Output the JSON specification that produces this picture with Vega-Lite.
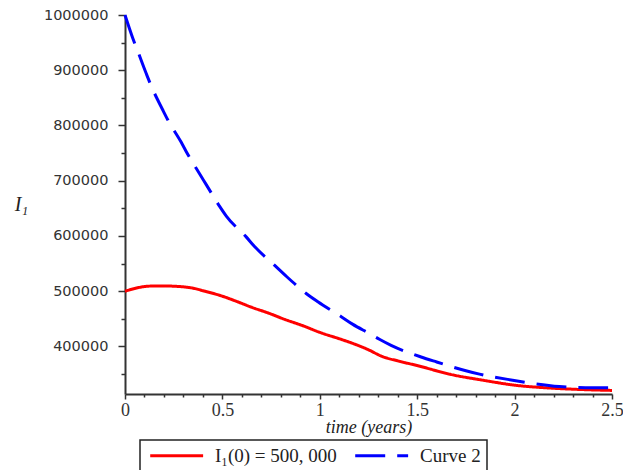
{
  "$schema": "https://vega.github.io/schema/vega-lite/v6.json",
  "width": 487,
  "height": 379,
  "autosize": {"type": "none"},
  "padding": {"left": 125, "top": 15, "right": 11, "bottom": 76},
  "background": "white",
  "config": {"view": {"stroke": null}},
  "data": {
    "values": [
      {"t": 0, "v": 500000, "s": "I₁(0) = 500, 000"},
      {"t": 0.05, "v": 505000, "s": "I₁(0) = 500, 000"},
      {"t": 0.1, "v": 508500, "s": "I₁(0) = 500, 000"},
      {"t": 0.15, "v": 509500, "s": "I₁(0) = 500, 000"},
      {"t": 0.2, "v": 509500, "s": "I₁(0) = 500, 000"},
      {"t": 0.28, "v": 508500, "s": "I₁(0) = 500, 000"},
      {"t": 0.35, "v": 505500, "s": "I₁(0) = 500, 000"},
      {"t": 0.4, "v": 501000, "s": "I₁(0) = 500, 000"},
      {"t": 0.5, "v": 491000, "s": "I₁(0) = 500, 000"},
      {"t": 0.57, "v": 482000, "s": "I₁(0) = 500, 000"},
      {"t": 0.65, "v": 471000, "s": "I₁(0) = 500, 000"},
      {"t": 0.74, "v": 460000, "s": "I₁(0) = 500, 000"},
      {"t": 0.82, "v": 449000, "s": "I₁(0) = 500, 000"},
      {"t": 0.91, "v": 438000, "s": "I₁(0) = 500, 000"},
      {"t": 1.0, "v": 425500, "s": "I₁(0) = 500, 000"},
      {"t": 1.1, "v": 414000, "s": "I₁(0) = 500, 000"},
      {"t": 1.15, "v": 408000, "s": "I₁(0) = 500, 000"},
      {"t": 1.25, "v": 394000, "s": "I₁(0) = 500, 000"},
      {"t": 1.32, "v": 382000, "s": "I₁(0) = 500, 000"},
      {"t": 1.4, "v": 374000, "s": "I₁(0) = 500, 000"},
      {"t": 1.5, "v": 365500, "s": "I₁(0) = 500, 000"},
      {"t": 1.67, "v": 349600, "s": "I₁(0) = 500, 000"},
      {"t": 1.84, "v": 338800, "s": "I₁(0) = 500, 000"},
      {"t": 2.0, "v": 330000, "s": "I₁(0) = 500, 000"},
      {"t": 2.18, "v": 324800, "s": "I₁(0) = 500, 000"},
      {"t": 2.35, "v": 322000, "s": "I₁(0) = 500, 000"},
      {"t": 2.5, "v": 320500, "s": "I₁(0) = 500, 000"},
      {"t": 0, "v": 1000000, "s": "Curve 2"},
      {"t": 0.04, "v": 958000, "s": "Curve 2"},
      {"t": 0.066, "v": 934000, "s": "Curve 2"},
      {"t": 0.109, "v": 894000, "s": "Curve 2"},
      {"t": 0.134, "v": 872000, "s": "Curve 2"},
      {"t": 0.194, "v": 828000, "s": "Curve 2"},
      {"t": 0.22, "v": 810000, "s": "Curve 2"},
      {"t": 0.288, "v": 770000, "s": "Curve 2"},
      {"t": 0.314, "v": 753000, "s": "Curve 2"},
      {"t": 0.382, "v": 713000, "s": "Curve 2"},
      {"t": 0.417, "v": 693000, "s": "Curve 2"},
      {"t": 0.485, "v": 654000, "s": "Curve 2"},
      {"t": 0.52, "v": 636000, "s": "Curve 2"},
      {"t": 0.622, "v": 598400, "s": "Curve 2"},
      {"t": 0.665, "v": 581000, "s": "Curve 2"},
      {"t": 0.767, "v": 547100, "s": "Curve 2"},
      {"t": 0.819, "v": 530000, "s": "Curve 2"},
      {"t": 0.93, "v": 496000, "s": "Curve 2"},
      {"t": 0.99, "v": 481000, "s": "Curve 2"},
      {"t": 1.11, "v": 454000, "s": "Curve 2"},
      {"t": 1.17, "v": 440000, "s": "Curve 2"},
      {"t": 1.255, "v": 423400, "s": "Curve 2"},
      {"t": 1.306, "v": 413000, "s": "Curve 2"},
      {"t": 1.366, "v": 402000, "s": "Curve 2"},
      {"t": 1.52, "v": 381000, "s": "Curve 2"},
      {"t": 1.6, "v": 372000, "s": "Curve 2"},
      {"t": 1.75, "v": 356000, "s": "Curve 2"},
      {"t": 1.82, "v": 350000, "s": "Curve 2"},
      {"t": 1.99, "v": 339000, "s": "Curve 2"},
      {"t": 2.06, "v": 335000, "s": "Curve 2"},
      {"t": 2.23, "v": 327500, "s": "Curve 2"},
      {"t": 2.3, "v": 326000, "s": "Curve 2"},
      {"t": 2.4, "v": 325300, "s": "Curve 2"},
      {"t": 2.48, "v": 325300, "s": "Curve 2"}
    ]
  },
  "mark": {"type": "line", "strokeWidth": 3, "interpolate": "monotone", "clip": false},
  "encoding": {
    "x": {
      "field": "t",
      "type": "quantitative",
      "scale": {"domain": [0, 2.5], "nice": false, "zero": false},
      "axis": {
        "title": "time (years)",
        "titleFont": "Liberation Serif",
        "titleFontStyle": "italic",
        "titleFontWeight": "normal",
        "titleFontSize": 18,
        "titleColor": "#222",
        "titleBaseline": "middle",
        "titleY": 33,
        "values": [0, 0.1, 0.2, 0.3, 0.4, 0.5, 0.6, 0.7, 0.8, 0.9, 1, 1.1, 1.2, 1.3, 1.4, 1.5, 1.6, 1.7, 1.8, 1.9, 2, 2.1, 2.2, 2.3, 2.4, 2.5],
        "labelExpr": "abs(datum.value*2 - round(datum.value*2)) < 0.001 ? toString(datum.value) : ''",
        "labelFont": "Liberation Serif",
        "labelFontSize": 18,
        "labelColor": "#333",
        "labelPadding": 2,
        "labelFlush": false,
        "labelBound": false,
        "labelOverlap": false,
        "tickSize": {"condition": {"test": "abs(datum.value*2 - round(datum.value*2)) < 0.001", "value": 5}, "value": 3},
        "tickColor": "#333",
        "tickWidth": 1.5,
        "domainColor": "#333",
        "domainWidth": 2,
        "grid": false
      }
    },
    "y": {
      "field": "v",
      "type": "quantitative",
      "scale": {"domain": [314000, 1000000], "nice": false, "zero": false},
      "axis": {
        "title": "I₁",
        "titleFont": "Liberation Serif",
        "titleFontStyle": "italic",
        "titleFontWeight": "normal",
        "titleFontSize": 20,
        "titleColor": "#222",
        "titleAngle": 0,
        "titleAlign": "center",
        "titleBaseline": "middle",
        "titleX": -104,
        "titleY": 189,
        "values": [350000, 400000, 450000, 500000, 550000, 600000, 650000, 700000, 750000, 800000, 850000, 900000, 950000, 1000000],
        "format": "d",
        "labelExpr": "datum.value % 100000 === 0 ? datum.label : ''",
        "labelFont": "DejaVu Sans",
        "labelFontSize": 14.5,
        "labelColor": "#333",
        "labelPadding": 10,
        "labelOverlap": false,
        "labelBound": false,
        "labelFlush": false,
        "tickSize": {"condition": {"test": "datum.value % 100000 === 0", "value": 7}, "value": 4},
        "tickColor": "#333",
        "tickWidth": 1.5,
        "domainColor": "#333",
        "domainWidth": 2,
        "grid": false
      }
    },
    "color": {
      "field": "s",
      "type": "nominal",
      "scale": {"domain": ["I₁(0) = 500, 000", "Curve 2"], "range": ["#ff0000", "#0000ff"]},
      "legend": {
        "title": null,
        "orient": "none",
        "legendX": 15,
        "legendY": 425,
        "direction": "horizontal",
        "strokeColor": "#222",
        "padding": 6,
        "symbolType": "M-1,0H9",
        "symbolSize": 112,
        "symbolStrokeWidth": 3,
        "labelFont": "Liberation Serif",
        "labelFontSize": 19,
        "labelColor": "#222",
        "labelOffset": 50,
        "columnPadding": 12,
        "labelLimit": 300,
        "encode": {"legend": {"update": {"strokeWidth": {"value": 1.5}}}}
      }
    },
    "strokeDash": {
      "field": "s",
      "type": "nominal",
      "scale": {"domain": ["I₁(0) = 500, 000", "Curve 2"], "range": [[1, 0], [30, 12]]},
      "legend": null
    }
  }
}
